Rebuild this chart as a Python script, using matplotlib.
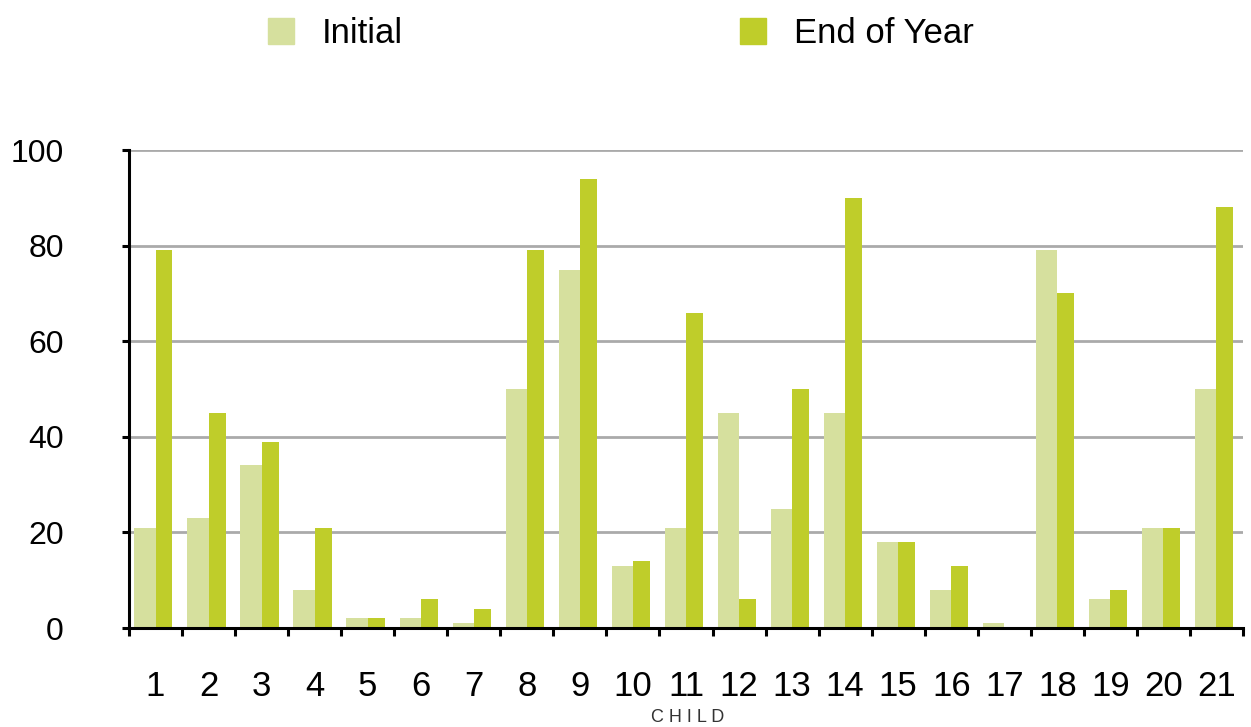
import matplotlib.pyplot as plt
import numpy as np
from matplotlib.patches import Patch

children = [str(i) for i in range(1, 22)]
initial = [21, 23, 34, 8, 2, 2, 1, 50, 75, 13, 21, 45, 25, 45, 18, 8, 1, 79, 6, 21, 50]
end_of_year = [79, 45, 39, 21, 2, 6, 4, 79, 94, 14, 66, 6, 50, 90, 18, 13, 0, 70, 8, 21, 88]

c_init = '#d6e09e'
c_end = '#bfcd2a'

plt.rcParams['font.family'] = ['Liberation Sans', 'DejaVu Sans']

fig = plt.figure(figsize=(12.51, 7.27), dpi=100)
ax = fig.add_axes([129 / 1251, 1 - 628 / 727, 1114 / 1251, 478 / 727])

x = np.arange(len(children))
ax.bar(x - 0.4, initial, width=0.4, align='edge', color=c_init, zorder=3)
ax.bar(x, end_of_year, width=0.32, align='edge', color=c_end, zorder=3)

ax.set_xlim(-0.5, len(children) - 0.5)
ax.set_ylim(0, 100)
ax.set_yticks([0, 20, 40, 60, 80, 100])
ax.tick_params(axis='y', labelsize=23, length=5, width=2.2, pad=42)

ax.set_xticks(np.arange(len(children) + 1) - 0.5)
ax.set_xticklabels([])
ax.set_xticks(x, minor=True)
ax.set_xticklabels(children, minor=True)
ax.tick_params(axis='x', which='major', length=6, width=2.2)
ax.tick_params(axis='x', which='minor', length=0, labelsize=25, pad=30)

ax.grid(axis='y', color='#aaaaaa', linewidth=2)
ax.set_axisbelow(True)
for s in ['top', 'right']:
    ax.spines[s].set_visible(False)
for s in ['left', 'bottom']:
    ax.spines[s].set_linewidth(2.2)
    ax.spines[s].set_zorder(4)

fig.text(688 / 1251, 1 - 717 / 727, 'C H I L D', fontsize=13, color='#333333',
         ha='center', va='center')

handles = [Patch(color=c_init, label='Initial'), Patch(color=c_end, label='End of Year')]
fig.legend(handles=handles, loc='upper left', bbox_to_anchor=(268 / 1251, 1 - 17 / 727), ncol=2,
           frameon=False, fontsize=25, handlelength=0.75, handleheight=0.75,
           handletextpad=0.8, columnspacing=9.7, borderpad=0, borderaxespad=0)

fig.savefig('out.png', dpi=100)
